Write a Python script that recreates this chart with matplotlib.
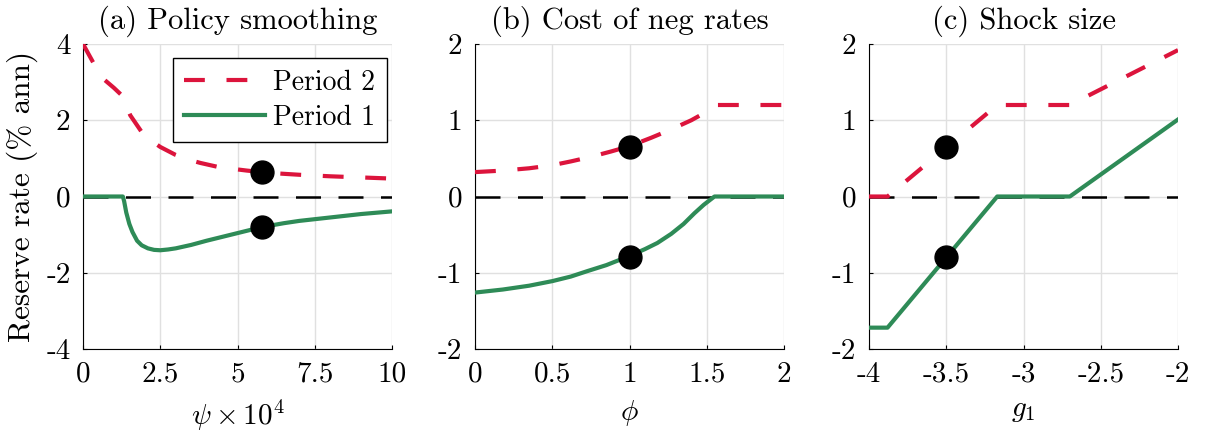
import numpy as np
import matplotlib
matplotlib.use("Agg")
import matplotlib.pyplot as plt

plt.rcParams["font.family"] = "serif"
plt.rcParams["font.serif"] = ["cmr10"]
plt.rcParams["mathtext.fontset"] = "cm"
plt.rcParams["axes.unicode_minus"] = False
plt.rcParams["axes.formatter.use_mathtext"] = True

RED = "#DC143C"
GREEN = "#2E8B57"

# ---- panel (a): policy smoothing ----
a_x2 = [0, 0.34, 0.71, 1.0, 1.26, 1.53, 1.9, 2.2, 2.5, 3.0, 3.4, 3.8, 4.4, 5.3, 6.0, 7.0, 8.0, 9.0, 10.0]
a_p2 = [4.0, 3.5, 3.05, 2.85, 2.65, 2.13, 1.69, 1.47, 1.3, 1.09, 0.97, 0.88, 0.77, 0.68, 0.62, 0.57, 0.53, 0.5, 0.47]
a_x1 = [0, 1.29, 1.33, 1.4, 1.5, 1.6, 1.75, 1.9, 2.1, 2.3, 2.5, 2.75, 3.0, 3.5, 4.0, 4.5, 5.0, 5.8,
        6.5, 7.0, 8.0, 9.0, 10.0]
a_p1 = [0, 0, -0.12, -0.42, -0.72, -0.93, -1.16, -1.28, -1.36, -1.4, -1.41, -1.39, -1.36, -1.27,
        -1.16, -1.06, -0.96, -0.8, -0.7, -0.64, -0.55, -0.46, -0.39]
a_dot_x = 5.8

# ---- panel (b): cost of negative rates ----
b_x2 = [0, 0.18, 0.35, 0.5, 0.62, 0.75, 0.88, 1.0, 1.14, 1.27, 1.4, 1.48, 1.57, 2.0]
b_p2 = [0.32, 0.34, 0.37, 0.41, 0.46, 0.52, 0.59, 0.66, 0.77, 0.88, 1.0, 1.09, 1.2, 1.2]
b_x1 = [0, 0.18, 0.35, 0.5, 0.62, 0.725, 0.85, 1.0, 1.1, 1.18, 1.27, 1.35, 1.42, 1.48, 1.55, 2.0]
b_p1 = [-1.26, -1.22, -1.17, -1.11, -1.05, -0.98, -0.9, -0.78, -0.69, -0.61, -0.49, -0.36, -0.22,
        -0.11, 0, 0]
b_dot_x = 1.0

# ---- panel (c): shock size ----
c_x2 = [-4.0, -3.88, -3.17, -2.7, -2.0]
c_p2 = [0, 0, 1.2, 1.2, 1.92]
c_x1 = [-4.0, -3.88, -3.17, -2.7, -2.0]
c_p1 = [-1.72, -1.72, 0, 0, 1.01]
c_dot_x = -3.5

dot_y = [0.65, -0.79]

titles = ["(a) Policy smoothing", "(b) Cost of neg rates", "(c) Shock size"]
xlabels = [r"$\psi \times 10^4$", r"$\phi$", r"$g_1$"]
xlims = [(0, 10), (0, 2), (-4, -2)]
xticks = [[0, 2.5, 5, 7.5, 10], [0, 0.5, 1, 1.5, 2], [-4, -3.5, -3, -2.5, -2]]
xticklabels = [["0", "2.5", "5", "7.5", "10"], ["0", "0.5", "1", "1.5", "2"],
               ["-4", "-3.5", "-3", "-2.5", "-2"]]
ylims = [(-4, 4), (-2, 2), (-2, 2)]
yticks = [[-4, -2, 0, 2, 4], [-2, -1, 0, 1, 2], [-2, -1, 0, 1, 2]]
yticklabels = [["-4", "-2", "0", "2", "4"], ["-2", "-1", "0", "1", "2"], ["-2", "-1", "0", "1", "2"]]

series = [(a_x2, a_p2, a_x1, a_p1, a_dot_x),
          (b_x2, b_p2, b_x1, b_p1, b_dot_x),
          (c_x2, c_p2, c_x1, c_p1, c_dot_x)]

fig = plt.figure(figsize=(12.06, 4.34), dpi=100)
lefts = [83 / 1206, 475 / 1206, 869 / 1206]
w, bot, h = 309 / 1206, 85 / 434, 305 / 434
FS = 21

for i, (x2, p2, x1, p1, dx) in enumerate(series):
    ax = fig.add_axes([lefts[i], bot, w, h])
    ax.grid(True, color="#e0e0e0", lw=1)
    ax.set_axisbelow(True)
    ax.plot(xlims[i], [0, 0], color="black", lw=1.8, dashes=(10, 7), zorder=2)
    l2, = ax.plot(x2, p2, color=RED, lw=3, dashes=(5, 5.2), label="Period 2", zorder=3)
    l1, = ax.plot(x1, p1, color=GREEN, lw=3, label="Period 1", zorder=3)
    ax.plot([dx, dx], dot_y, "o", color="black", ms=16.5, ls="none", zorder=4)
    ax.set_xlim(xlims[i]); ax.set_ylim(ylims[i])
    ax.set_xticks(xticks[i]); ax.set_xticklabels(xticklabels[i])
    ax.set_yticks(yticks[i]); ax.set_yticklabels(yticklabels[i])
    ax.tick_params(direction="in", length=3, labelsize=FS, pad=9)
    for s in ["top", "right"]:
        ax.spines[s].set_visible(False)
    ax.set_title(titles[i], fontsize=FS + 1, pad=11)
    ax.set_xlabel(xlabels[i], fontsize=FS, labelpad=7)
    if i == 0:
        ax.set_ylabel("Reserve rate (% ann)", fontsize=FS + 1.5, labelpad=6)
        leg = ax.legend(handles=[l2, l1], loc="upper right", bbox_to_anchor=(0.984, 0.954),
                        fontsize=FS - 1, handlelength=2.9, handletextpad=0.3, frameon=True,
                        fancybox=False, edgecolor="black", framealpha=1, borderaxespad=0,
                        borderpad=0.42, labelspacing=0.3)
        leg.get_frame().set_linewidth(1)

fig.savefig("out.png", dpi=100)
